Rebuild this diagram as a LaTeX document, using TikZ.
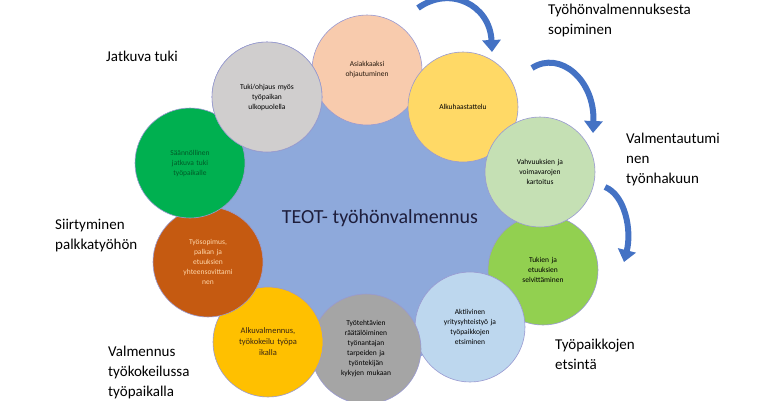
\documentclass[tikz,border=0pt]{standalone}
\usepackage{fontspec}
\setmainfont{Carlito}
\usetikzlibrary{arrows.meta}
\begin{document}
\begin{tikzpicture}[x=1pt,y=-1pt,
 bub/.style={circle,minimum size=110pt,draw=black!45!blue!40,line width=0.6pt,align=center,font=\fontsize{7.5}{10}\selectfont,text width=70pt,inner sep=0pt},
 lab/.style={anchor=north west,align=left,font=\fontsize{15}{20}\selectfont,inner sep=0pt},
 arr/.style={draw=blue!50!cyan!40!black!80,color={rgb,255:red,68;green,114;blue,196},line width=6pt,-{Triangle[length=12pt,width=18pt]}}]
\useasboundingbox (0,0) rectangle (760,400);
\definecolor{big}{HTML}{8EA9DB}
\node[circle,fill=big,minimum size=300pt,inner sep=0pt] (core) at (370,215) {};
\node[bub,fill={rgb,255:red,248;green,203;blue,173},text=black!80!brown] (a1) at (367,70) {Asiakkaaksi\\ohjautuminen};
\node[bub,fill={rgb,255:red,255;green,217;blue,102}] (a2) at (463,107) {Alkuhaastattelu};
\node[bub,fill={rgb,255:red,146;green,208;blue,80}] (a4) at (543,270) {Tukien ja\\etuuksien\\selvittäminen};
\node[bub,fill={rgb,255:red,197;green,224;blue,180}] (a3) at (540,172) {Vahvuuksien ja\\voimavarojen\\kartoitus};
\node[bub,fill={rgb,255:red,189;green,215;blue,238}] (a5) at (470,327) {Aktiivinen\\yritysyhteistyö ja\\työpaikkojen\\etsiminen};
\node[bub,fill={rgb,255:red,165;green,165;blue,165}] (a6) at (366,349) {Työtehtävien\\räätälöiminen\\työnantajan\\tarpeiden ja\\työntekijän\\kykyjen mukaan};
\node[bub,fill={rgb,255:red,255;green,192;blue,0},text=black!70!brown,font=\fontsize{8.5}{11}\selectfont] (a7) at (268,342) {Alkuvalmennus,\\työkokeilu työpa\\ikalla};
\node[bub,fill={rgb,255:red,197;green,90;blue,17},text={rgb,255:red,255;green,215;blue,170}] (a8) at (208,262) {Työsopimus,\\palkan ja\\etuuksien\\yhteensovittami\\nen};
\node[bub,fill={rgb,255:red,0;green,176;blue,80},text=black!60!green] (a10) at (267,97) {};
\node[bub,fill={rgb,255:red,0;green,176;blue,80},text={rgb,255:red,0;green,90;blue,40}] (a9) at (190,163) {Säännöllinen\\jatkuva tuki\\työpaikalle};
\node[bub,fill={rgb,255:red,208;green,206;blue,206}] (a10b) at (267,97) {Tuki/ohjaus myös\\työpaikan\\ulkopuolella};
\node[font=\fontsize{20}{24}\selectfont,text={rgb,255:red,30;green,30;blue,60}] (title) at (380,218) {TEOT- työhönvalmennus};
\node[lab] (l1) at (548,4) {Työhönvalmennuksesta\\sopiminen};
\node[lab] (l2) at (626,133) {Valmentautumi\\nen\\työnhakuun};
\node[lab] (l3) at (555,339) {Työpaikkojen\\etsintä};
\node[lab] (l4) at (108,346) {Valmennus\\työkokeilussa\\työpaikalla};
\node[lab] (l5) at (55,219) {Siirtyminen\\palkkatyöhön};
\node[lab] (l6) at (106,51) {Jatkuva tuki};
\coordinate (s1) at (418,8); \coordinate (e1) at (492,52);
\coordinate (s2) at (532,68); \coordinate (e2) at (593,133);
\coordinate (s3) at (605,187); \coordinate (e3) at (624,262);
\draw[arr] (s1) .. controls (450,-15) and (490,5) .. (e1);
\draw[arr] (s2) .. controls (560,50) and (595,80) .. (e2);
\draw[arr] (s3) .. controls (625,195) and (632,230) .. (e3);
\end{tikzpicture}
\end{document}
